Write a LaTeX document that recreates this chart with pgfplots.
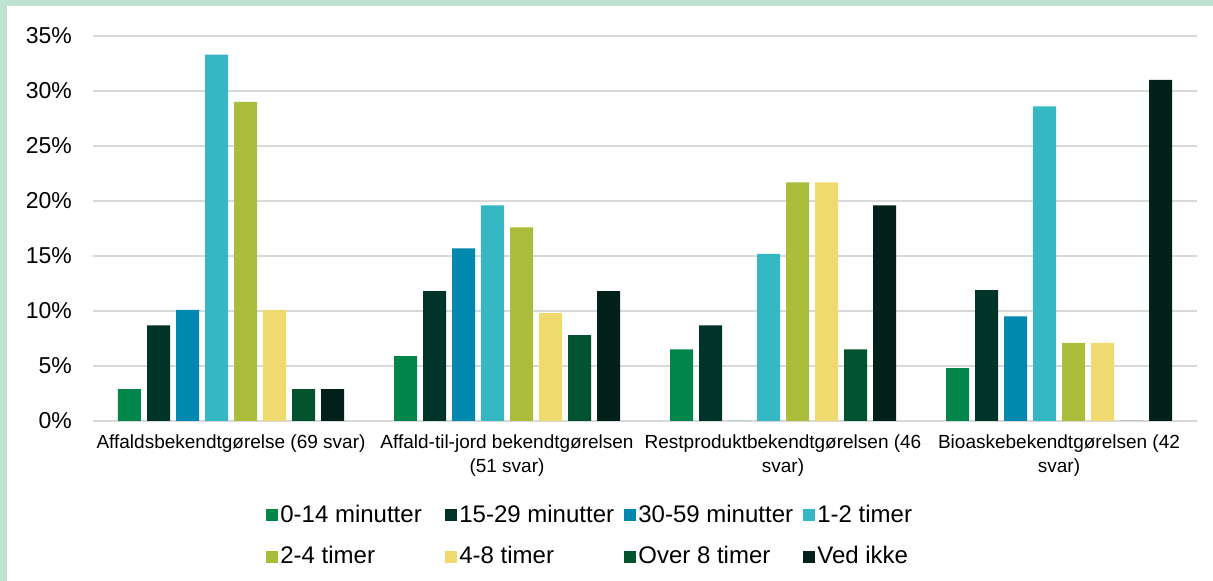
\documentclass[border=0pt]{standalone}
\usepackage{pgfplots}
\pgfplotsset{compat=1.18}
\usepackage{pgfplotstable}
\usepackage{fontspec}
\setmainfont{Liberation Sans}

\definecolor{cA}{HTML}{00854A}
\definecolor{cB}{HTML}{003428}
\definecolor{cC}{HTML}{0088AE}
\definecolor{cD}{HTML}{35B8C4}
\definecolor{cE}{HTML}{ABBD3B}
\definecolor{cF}{HTML}{EEDA6E}
\definecolor{cG}{HTML}{02532F}
\definecolor{cH}{HTML}{03201A}
\definecolor{framecol}{HTML}{BFE3D3}
\definecolor{gridcol}{HTML}{D9D9D9}

% andel svar i procent, en kolonne pr. tidsinterval
\pgfplotstableread{
x  a    b    c    d    e    f    g   h
0  2.9  8.7  10.1 33.3 29.0 10.1 2.9 2.9
1  5.9  11.8 15.7 19.6 17.6 9.8  7.8 11.8
2  6.5  8.7  0    15.2 21.7 21.7 6.5 19.6
3  4.8  11.9 9.5  28.6 7.1  7.1  0   31.0
}\data

\newcommand{\legtxt}[1]{\makebox[81.5pt][l]{#1}}

\begin{document}
\begin{tikzpicture}
\fill[framecol] (0pt,0pt) rectangle (606.5pt,290.5pt);
\fill[white] (3.5pt,0pt) rectangle (606.5pt,287.5pt);
\useasboundingbox (0pt,0pt) rectangle (606.5pt,290.5pt);
\begin{axis}[
    at={(46.5pt,80pt)}, anchor=south west,
    scale only axis,
    width=552pt, height=192.5pt,
    ybar=3pt, bar width=11.5pt,
    xmin=-0.5, xmax=3.5,
    ymin=0, ymax=35,
    xtick=data,
    xticklabels={Affaldsbekendtgørelse (69 svar),
        {Affald-til-jord bekendtgørelsen\\(51 svar)},
        {Restproduktbekendtgørelsen (46\\svar)},
        {Bioaskebekendtgørelsen (42\\svar)}},
    xticklabel style={font=\fontsize{9.5}{12}\selectfont, align=center, yshift=-3.5pt},
    ytick={0,5,...,35},
    yticklabels={0\%,5\%,10\%,15\%,20\%,25\%,30\%,35\%},
    yticklabel style={font=\fontsize{11.5}{13}\selectfont, xshift=-7pt},
    major tick length=0pt,
    axis line style={draw=none},
    ymajorgrids, grid style={gridcol, line width=0.8pt},
    legend columns=4,
    legend cell align=left,
    legend image code/.code={\fill[#1] (0pt,-3pt) rectangle (6pt,3pt);},
    legend style={at={(0.1567,-0.212)}, anchor=north west, draw=none,
        fill=none, inner sep=0pt, row sep=8.5pt,
        nodes={inner sep=1pt},
        font=\fontsize{12}{14}\selectfont},
]
\addplot[fill=cA, draw=none] table[x=x, y=a] {\data};
\addlegendentry{\legtxt{0-14 minutter}}
\addplot[fill=cB, draw=none] table[x=x, y=b] {\data};
\addlegendentry{\legtxt{15-29 minutter}}
\addplot[fill=cC, draw=none] table[x=x, y=c] {\data};
\addlegendentry{\legtxt{30-59 minutter}}
\addplot[fill=cD, draw=none] table[x=x, y=d] {\data};
\addlegendentry{\legtxt{1-2 timer}}
\addplot[fill=cE, draw=none] table[x=x, y=e] {\data};
\addlegendentry{\legtxt{2-4 timer}}
\addplot[fill=cF, draw=none] table[x=x, y=f] {\data};
\addlegendentry{\legtxt{4-8 timer}}
\addplot[fill=cG, draw=none] table[x=x, y=g] {\data};
\addlegendentry{\legtxt{Over 8 timer}}
\addplot[fill=cH, draw=none] table[x=x, y=h] {\data};
\addlegendentry{\legtxt{Ved ikke}}
\end{axis}
\end{tikzpicture}
\end{document}
